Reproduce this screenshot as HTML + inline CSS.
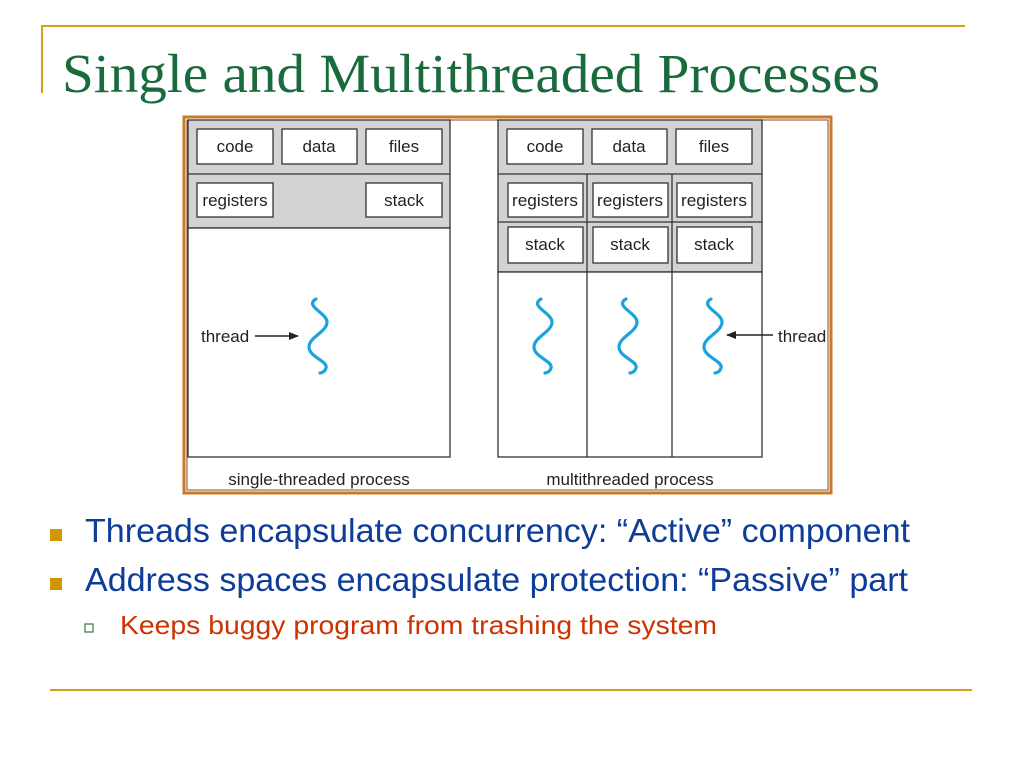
<!DOCTYPE html>
<html><head><meta charset="utf-8"><style>
html,body{margin:0;padding:0;background:#fff;}
body{width:1024px;height:768px;position:relative;overflow:hidden;font-family:"Liberation Sans",sans-serif;}
</style></head><body>
<svg width="1024" height="768" viewBox="0 0 1024 768" xmlns="http://www.w3.org/2000/svg" style="position:absolute;left:0;top:0">
<defs>
<marker id="ah" markerWidth="10" markerHeight="8" refX="9" refY="4" orient="auto" markerUnits="userSpaceOnUse">
<path d="M0,0 L10,4 L0,8 z" fill="#222"/></marker>
<path id="sq" d="M-2,299 C-14,306 9,313 9,322 C9,332 -9,337 -9,347 C-9,357 10,361 8,368 C7,372 3,373 2,373" fill="none" stroke="#1aa3dd" stroke-width="3.2" stroke-linecap="round"/>
</defs>
<line x1="42" y1="26" x2="965" y2="26" stroke="#d4a017" stroke-width="2"/>
<line x1="42" y1="25" x2="42" y2="93" stroke="#d4a017" stroke-width="2"/>
<text x="62" y="92" font-family="Liberation Serif,serif" font-size="55" fill="#1a6b3c" textLength="818" lengthAdjust="spacingAndGlyphs">Single and Multithreaded Processes</text>
<rect x="184" y="117" width="647" height="376" fill="#fff" stroke="#c87a2a" stroke-width="3"/>
<rect x="187" y="120" width="641" height="370" fill="none" stroke="#8a4a10" stroke-width="1"/>
<g font-size="17" fill="#222" text-anchor="middle" stroke-width="1.3">
<rect x="188" y="120" width="262" height="108" fill="#d3d3d3" stroke="#333"/>
<line x1="188" y1="174" x2="450" y2="174" stroke="#333"/>
<rect x="188" y="228" width="262" height="229" fill="#fff" stroke="#333"/>
<rect x="197" y="129" width="76" height="35" fill="#fff" stroke="#333"/>
<rect x="282" y="129" width="75" height="35" fill="#fff" stroke="#333"/>
<rect x="366" y="129" width="76" height="35" fill="#fff" stroke="#333"/>
<rect x="197" y="183" width="76" height="34" fill="#fff" stroke="#333"/>
<rect x="366" y="183" width="76" height="34" fill="#fff" stroke="#333"/>
<text x="235" y="152">code</text><text x="319" y="152">data</text><text x="404" y="152">files</text>
<text x="235" y="206">registers</text><text x="404" y="206">stack</text>
<rect x="498" y="120" width="264" height="152" fill="#d3d3d3" stroke="#333"/>
<line x1="498" y1="174" x2="762" y2="174" stroke="#333"/>
<line x1="498" y1="222" x2="762" y2="222" stroke="#333"/>
<rect x="498" y="272" width="264" height="185" fill="#fff" stroke="#333"/>
<line x1="587" y1="174" x2="587" y2="457" stroke="#333"/>
<line x1="672" y1="174" x2="672" y2="457" stroke="#333"/>
<rect x="507" y="129" width="76" height="35" fill="#fff" stroke="#333"/>
<rect x="592" y="129" width="75" height="35" fill="#fff" stroke="#333"/>
<rect x="676" y="129" width="76" height="35" fill="#fff" stroke="#333"/>
<rect x="508" y="183" width="75" height="34" fill="#fff" stroke="#333"/>
<rect x="593" y="183" width="75" height="34" fill="#fff" stroke="#333"/>
<rect x="677" y="183" width="75" height="34" fill="#fff" stroke="#333"/>
<rect x="508" y="227" width="75" height="36" fill="#fff" stroke="#333"/>
<rect x="593" y="227" width="75" height="36" fill="#fff" stroke="#333"/>
<rect x="677" y="227" width="75" height="36" fill="#fff" stroke="#333"/>
<text x="545" y="152">code</text><text x="629" y="152">data</text><text x="714" y="152">files</text>
<text x="545" y="206" textLength="66" lengthAdjust="spacingAndGlyphs">registers</text><text x="630" y="206" textLength="66" lengthAdjust="spacingAndGlyphs">registers</text><text x="714" y="206" textLength="66" lengthAdjust="spacingAndGlyphs">registers</text>
<text x="545" y="250">stack</text><text x="630" y="250">stack</text><text x="714" y="250">stack</text>
<text x="319" y="485">single-threaded process</text>
<text x="630" y="485">multithreaded process</text>
</g>
<use href="#sq" transform="translate(318,0)"/>
<use href="#sq" transform="translate(543,0)"/>
<use href="#sq" transform="translate(628,0)"/>
<use href="#sq" transform="translate(713,0)"/>
<text x="201" y="342" font-size="17" fill="#222">thread</text>
<line x1="255" y1="336" x2="298" y2="336" stroke="#222" stroke-width="1.5" marker-end="url(#ah)"/>
<line x1="773" y1="335" x2="727" y2="335" stroke="#222" stroke-width="1.5" marker-end="url(#ah)"/>
<text x="778" y="342" font-size="17" fill="#222">thread</text>
<rect x="50" y="529" width="12" height="12" fill="#cc9900"/>
<rect x="50" y="578" width="12" height="12" fill="#cc9900"/>
<text x="85" y="542" font-size="33" fill="#0d3c99" textLength="825" lengthAdjust="spacingAndGlyphs">Threads encapsulate concurrency: “Active” component</text>
<text x="85" y="591" font-size="33" fill="#0d3c99" textLength="823" lengthAdjust="spacingAndGlyphs">Address spaces encapsulate protection: “Passive” part</text>
<rect x="85" y="624" width="8" height="8" fill="#fff" stroke="#3a7a3a" stroke-width="1.2"/>
<text x="120" y="634" font-size="26" fill="#cc3300" textLength="597" lengthAdjust="spacingAndGlyphs">Keeps buggy program from trashing the system</text>
<line x1="50" y1="690" x2="972" y2="690" stroke="#d4a017" stroke-width="2"/>
</svg>
</body></html>
